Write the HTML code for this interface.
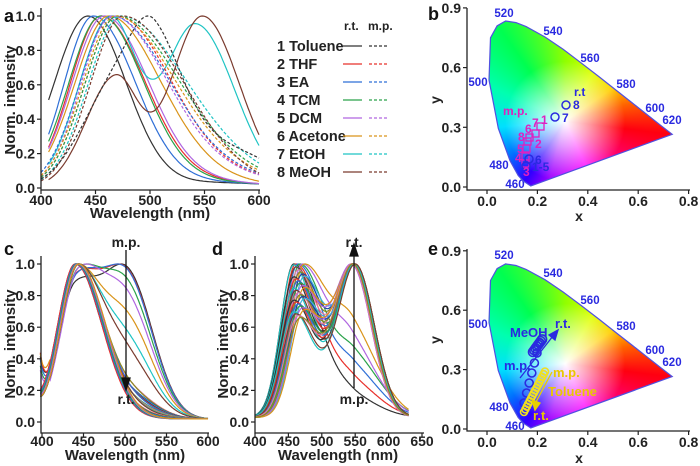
<!DOCTYPE html>
<html><head><meta charset="utf-8"><style>
body{margin:0;background:#fff;}
#w{position:relative;width:700px;height:466px;overflow:hidden;font-family:"Liberation Sans",Arial,sans-serif;}
svg{position:absolute;left:0;top:0}
text{font-family:"Liberation Sans",Arial,sans-serif;font-weight:bold}
.t{font-size:14px;fill:#222}
.ax{font-size:15px;fill:#222}
.pl{font-size:18px;fill:#111}
.wl{font-size:11.5px;fill:#2a2ae0}
.cie{position:absolute;left:0;top:0;width:700px;height:466px;}
</style></head><body><div id="w">
<div class="cie" id="cie1"></div>
<div class="cie" id="cie2"></div>
<svg width="700" height="466" id="s">
<g id="curves"></g>
<g stroke="#222" stroke-width="1.3" fill="none">
<path d="M41,8V190H260"/>
<path d="M41,256V433H209"/>
<path d="M255,256V433H424"/>
<path d="M467,8V190H690"/>
<path d="M467,249V431H690"/>
</g>
<g id="ticks" stroke="#222" stroke-width="1.2"></g>
<g id="labs"></g>
<text class="pl" x="4" y="22">a</text>
<text class="pl" x="428" y="20">b</text>
<text class="pl" x="4" y="255">c</text>
<text class="pl" x="212" y="255">d</text>
<text class="pl" x="428" y="255">e</text>
<text class="ax" x="150" y="218" text-anchor="middle">Wavelength (nm)</text>
<text class="ax" x="125" y="460" text-anchor="middle">Wavelength (nm)</text>
<text class="ax" x="338" y="460" text-anchor="middle">Wavelength (nm)</text>
<text class="ax" transform="translate(15,100) rotate(-90)" text-anchor="middle">Norm. intensity</text>
<text class="ax" transform="translate(15,344) rotate(-90)" text-anchor="middle">Norm. intensity</text>
<text class="ax" transform="translate(228,344) rotate(-90)" text-anchor="middle">Norm. intensity</text>
<text class="t" x="440" y="100" text-anchor="middle" transform="rotate(-90 440 100)">y</text>
<text class="t" x="579" y="221" text-anchor="middle">x</text>
<text class="t" x="440" y="340" text-anchor="middle" transform="rotate(-90 440 340)">y</text>
<text class="t" x="579" y="463" text-anchor="middle">x</text>
<g id="leg"></g>
<g stroke="#111" stroke-width="1.3" fill="#111">
<path d="M126,250V380" fill="none"/><path d="M122,378L126,390L130,378Z"/>
<path d="M354,388V254" fill="none"/><path d="M350,256L354,244L358,256Z"/>
</g>
<text class="t" x="126" y="247" text-anchor="middle">m.p.</text>
<text class="t" x="126" y="404" text-anchor="middle">r.t.</text>
<text class="t" x="354" y="247" text-anchor="middle">r.t.</text>
<text class="t" x="354" y="404" text-anchor="middle">m.p.</text>
<g class="wl">
<text x="504" y="17" text-anchor="middle">520</text><text x="553" y="35" text-anchor="middle">540</text>
<text x="590" y="62" text-anchor="middle">560</text><text x="626" y="88" text-anchor="middle">580</text>
<text x="655" y="112" text-anchor="middle">600</text><text x="672" y="124" text-anchor="middle">620</text>
<text x="478" y="86" text-anchor="middle">500</text><text x="499" y="169" text-anchor="middle">480</text>
<text x="515" y="188" text-anchor="middle">460</text>
</g>
<g class="wl" transform="translate(0,242)">
<text x="504" y="17" text-anchor="middle">520</text><text x="553" y="35" text-anchor="middle">540</text>
<text x="590" y="62" text-anchor="middle">560</text><text x="626" y="88" text-anchor="middle">580</text>
<text x="655" y="112" text-anchor="middle">600</text><text x="672" y="124" text-anchor="middle">620</text>
<text x="478" y="86" text-anchor="middle">500</text><text x="499" y="169" text-anchor="middle">480</text>
<text x="515" y="188" text-anchor="middle">460</text>
</g>
<g fill="none" stroke="#e020c0" stroke-width="1.3">
<rect x="537" y="123" width="7" height="7"/><rect x="532" y="130" width="7" height="7"/>
<rect x="526" y="134" width="7" height="7"/><rect x="524" y="138" width="7" height="7"/>
<rect x="523" y="145" width="7" height="7"/><rect x="522" y="153" width="7" height="7"/>
<rect x="522" y="160" width="7" height="7"/>
</g>
<g fill="none" stroke="#2a2ae0" stroke-width="1.5">
<circle cx="566" cy="105" r="4"/><circle cx="555" cy="117" r="4"/><circle cx="529" cy="159" r="4"/><circle cx="526" cy="166" r="4"/>
</g>
<g class="wl" style="font-size:12px">
<text x="574" y="96">r.t</text><text x="573" y="109">8</text><text x="562" y="122">7</text><text x="535" y="164">6</text><text x="532" y="171">1-5</text>
</g>
<g class="wl" style="fill:#e020c0;font-size:12px">
<text x="503" y="115">m.p.</text><text x="541" y="124">1</text><text x="532" y="127">7</text><text x="525" y="133">6</text>
<text x="518" y="141">8</text><text x="535" y="148">2</text><text x="517" y="153">5</text><text x="515" y="162">4</text><text x="523" y="176">3</text>
</g>
<g fill="none" stroke="#2a2ae0" stroke-width="1.6" id="eb"></g>
<g fill="none" stroke="#f0e020" stroke-width="1.6" id="ey"></g>
<g stroke="#2a2ae0" stroke-width="1.3" fill="#2a2ae0"><path d="M520,378L553,336" fill="none"/><path d="M549,335L558,330L555,340Z"/></g>
<g stroke="#e8d000" stroke-width="1.3" fill="#e8d000"><path d="M552,372L536,402" fill="none"/><path d="M532,400L535,410L540,403Z"/></g>
<g class="wl" style="font-size:13px">
<text x="510" y="337">MeOH</text><text x="555" y="328">r.t.</text><text x="504" y="370">m.p.</text>
</g>
<g class="wl" style="font-size:13px;fill:#e8c800">
<text x="553" y="377">m.p.</text><text x="548" y="396">Toluene</text><text x="533" y="420">r.t.</text>
</g>
</svg>
</div>
<script>
var NS="http://www.w3.org/2000/svg";
function el(p,t,a,txt){var e=document.createElementNS(NS,t);for(var k in a)e.setAttribute(k,a[k]);if(txt!=null)e.textContent=txt;document.getElementById(p).appendChild(e);return e;}
function g(x,p,wl,wr){var w=x<p?wl:wr;return Math.exp(-Math.pow((x-p)/w,2));}
var C=["#333","#e8302b","#2f6fd6","#2aa24a","#b066e0","#d9941a","#1fc4c4","#7a3b2e","#e07aa0","#8a8a20","#1f3fa0","#40b0e0"];
function curve(par,f,x0,x1,X,Y,col,dash){
 var xs=[],m=0;for(var x=x0;x<=x1;x+=1){var v=f(x);xs.push([x,v]);if(v>m)m=v;}
 var d="";xs.forEach(function(q,i){d+=(i?"L":"M")+X(q[0]).toFixed(1)+","+Y(q[1]/m).toFixed(1);});
 var a={d:d,fill:"none",stroke:col,"stroke-width":1.2};if(dash)a["stroke-dasharray"]="3,2";el(par,"path",a);}
var Xa=function(x){return 41+(x-400)*1.09},Ya=function(v){return 188-172*v};
var sol=[[443,44,50],[455,40,58],[448,38,55],[455,42,56],[458,42,58],[462,44,68]];
sol.forEach(function(s,i){curve("curves",function(x){return g(x,s[0],s[1],s[2])+0.03*g(x,560,50,80)},407,600,Xa,Ya,C[i]);});
curve("curves",function(x){return g(x,463,40,35)*0.98+0.95*g(x,542,40,50)},407,600,Xa,Ya,C[6]);
curve("curves",function(x){return 0.64*g(x,468,38,30)+g(x,548,40,48)},407,600,Xa,Ya,C[7]);
var dsh=[[470,42,70],[465,42,75],[470,42,80],[465,40,72],[468,42,78]];
dsh.forEach(function(s,i){curve("curves",function(x){return g(x,s[0],s[1],s[2])+0.05*g(x,580,60,80)},400,600,Xa,Ya,C[i+1],1);});
curve("curves",function(x){return g(x,473,42,85)+0.04*g(x,580,60,80)},400,600,Xa,Ya,C[6],1);
curve("curves",function(x){return g(x,475,42,80)},400,600,Xa,Ya,C[7],1);
curve("curves",function(x){return 0.95*g(x,470,45,50)+0.9*g(x,505,30,40)+0.35*g(x,570,50,60)},400,600,Xa,Ya,C[0],1);
var Xc=function(x){return 42+(x-400)*0.83},Yc=function(v){return 422-158*v};
for(var i=0;i<30;i++){(function(i){var a=i<8?[1,0.98,0.97,0.85,0.75,0.6,0.45,0.35][i]:Math.max(0,0.25-i*0.01);var wr=i<8?45:38+i*0.3;var b=i<6?[0.7,0.72,0.65,0.55,0.5,0.6][i]:0.1;
 curve("curves",function(x){return g(x,440+(i%5),30,wr)+a*g(x,505,40,42)*(i==0?1.05:0.98)+ (x<410?b*Math.exp(-(x-398)/6)*0.5:0)+0.02},398,600,Xc,Yc,C[i%12]);})(i);}
var Xd=function(x){return 255+(x-400)*0.668};
for(var i=0;i<34;i++){(function(i){var A1,A2,w2;if(i<6){A1=1;A2=[0.12,0.2,0.28,0.35,0.42,0.5][i];w2=55;}else{A1=1-0.35*((i-6)/27);A2=1;w2=40;}
 var p1=458+(i%6)*3,p2=546+(i%4)*1.5;
 curve("curves",function(x){return A1*g(x,p1,28,i<6?55:42)+A2*g(x,p2,38,w2)+0.03},400,630,Xd,Yc,C[i%12]);})(i);}
function tl(x,y,s,anc){el("labs","text",{x:x,y:y,"text-anchor":anc||"middle",class:"t"},s);}
function tk(x1,y1,x2,y2){el("ticks","line",{x1:x1,y1:y1,x2:x2,y2:y2});}
for(var v=0;v<=5;v++){var y=Ya(v*0.2);tk(37,y,41,y);tl(35,y+5,(v*0.2).toFixed(1),"end");y=Yc(v*0.2);tk(37,y,41,y);tl(35,y+5,(v*0.2).toFixed(1),"end");tk(251,y,255,y);tl(249,y+5,(v*0.2).toFixed(1),"end");}
[400,450,500,550,600].forEach(function(w){var x=Xa(w);tk(x,190,x,194);tl(x,205,w);x=Xc(w);tk(x,433,x,437);tl(x,446,w);});
[400,450,500,550,600,650].forEach(function(w){var x=Xd(w);tk(x,433,x,437);tl(x,446,w);});
[0,0.2,0.4,0.6,0.8].forEach(function(v){var x=487+v*252;tk(x,190,x,194);tl(x,206,v.toFixed(1));tk(x,431,x,435);tl(x,447,v.toFixed(1));});
[0,0.3,0.6,0.9].forEach(function(v){var y=187-v*199;tk(463,y,467,y);tl(461,y+5,v.toFixed(1),"end");y=429-v*198;tk(463,y,467,y);tl(461,y+5,v.toFixed(1),"end");});
el("leg","text",{x:344,y:30,class:"t",style:"font-size:12px"},"r.t.");el("leg","text",{x:368,y:30,class:"t",style:"font-size:12px"},"m.p.");
["1 Toluene","2 THF","3 EA","4 TCM","5 DCM","6 Acetone","7 EtOH","8 MeOH"].forEach(function(s,i){var y=51+i*18;
 el("leg","text",{x:277,y:y,class:"t",style:"font-size:14.5px"},s);
 el("leg","line",{x1:343,y1:y-5,x2:362,y2:y-5,stroke:C[i],"stroke-width":1.3});
 el("leg","line",{x1:369,y1:y-5,x2:388,y2:y-5,stroke:C[i],"stroke-width":1.3,"stroke-dasharray":"3,2"});});
var loc=[[0.174,0.005],[0.144,0.030],[0.124,0.058],[0.091,0.133],[0.045,0.295],[0.008,0.538],[0.014,0.750],[0.040,0.810],[0.074,0.834],[0.115,0.826],[0.155,0.806],[0.230,0.754],[0.302,0.692],[0.373,0.624],[0.444,0.555],[0.512,0.487],[0.575,0.424],[0.627,0.372],[0.691,0.308],[0.735,0.265]];
function cie(id,oy,sy){var d="";loc.forEach(function(p,i){d+=(i?"L":"M")+(487+p[0]*252).toFixed(1)+" "+(oy-p[1]*sy).toFixed(1)+" ";});d+="Z";
 var e=document.getElementById(id);var wx=487+0.31*252,wy=oy-0.33*sy;
 e.style.clipPath="path('"+d+"')";
 e.style.background="radial-gradient(circle at "+wx+"px "+wy+"px, rgba(255,255,255,1) 0px, rgba(255,255,255,0.6) 25px, rgba(255,255,255,0) 60px), conic-gradient(from 0deg at "+wx+"px "+wy+"px, #90ff00 0deg, #e0ff00 30deg, #ffd000 55deg, #ff6000 75deg, #ff0010 97deg, #ff0070 125deg, #ff00ff 155deg, #a000ff 195deg, #3000ff 214deg, #0070ff 238deg, #00e0ff 265deg, #00ffb0 295deg, #00ff50 325deg, #90ff00 360deg)";
 el("s","path",{d:d,fill:"none",stroke:"#5050e0","stroke-width":1.2});}
cie("cie1",187,199);cie("cie2",429,198);
for(var i=0;i<7;i++){el("eb","circle",{cx:524+i*2.6,cy:403-i*10,r:4});}
for(var i=0;i<8;i++){el("eb","circle",{cx:533+i*1.3,cy:352-i*1.8,r:4.5});}
for(var i=0;i<16;i++){el("ey","circle",{cx:524+i*1.4,cy:412-i*2.7,r:3.5});}
</script>
</body></html>
